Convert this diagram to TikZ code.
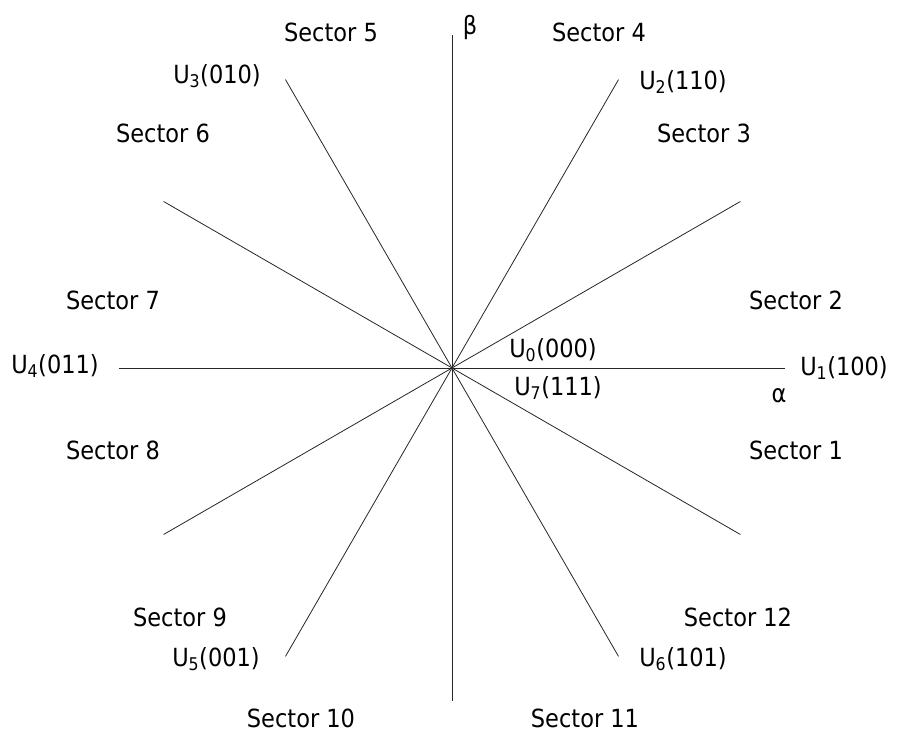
\documentclass[tikz,border=0pt]{standalone}
\usepackage{fontspec}
\setmainfont{DejaVu Sans Condensed}
\usetikzlibrary{calc}

\tikzset{
  axis/.style={draw=black!85, line width=0.8pt},
  lbl/.style={inner sep=0.75pt, font=\fontsize{25}{30}\selectfont},
}

\begin{document}
\begin{tikzpicture}[x=1pt,y=1pt]
            \useasboundingbox (-452,-365) rectangle (446,368);

            % Centre
            \coordinate (O) at (0,0);

            % Ends of the lines
            \foreach \a in {0,30,...,330}
              \coordinate (e\a) at (\a:333);

            % Lines
            \foreach \a in {0,30,...,330}
              \draw [axis] (O) -- (e\a);

            % Axis labels
            \node [lbl] (beta) at (18,340) {β};
            \node [lbl] (alpha) at (327,-28) {α};

            % Vectors
            \node [lbl] (u0) at (101,18) {U\textsubscript{0}(000)};
            \node [lbl] (u7) at (106,-20) {U\textsubscript{7}(111)};
            \node [lbl] (u1) at (392,0) {U\textsubscript{1}(100)};
            \node [lbl] (u2) at (231,286) {U\textsubscript{2}(110)};
            \node [lbl] (u3) at (-235,292) {U\textsubscript{3}(010)};
            \node [lbl] (u4) at (-397,2) {U\textsubscript{4}(011)};
            \node [lbl] (u5) at (-236,-291) {U\textsubscript{5}(001)};
            \node [lbl] (u6) at (231,-291) {U\textsubscript{6}(101)};

            % Sectors
            \node [lbl] (s1) at (344,-82) {Sector 1};
            \node [lbl] (s2) at (344,68) {Sector 2};
            \node [lbl] (s3) at (252,235) {Sector 3};
            \node [lbl] (s4) at (147,336) {Sector 4};
            \node [lbl] (s5) at (-121,336) {Sector 5};
            \node [lbl] (s6) at (-289,235) {Sector 6};
            \node [lbl] (s7) at (-339,68) {Sector 7};
            \node [lbl] (s8) at (-339,-82) {Sector 8};
            \node [lbl] (s9) at (-272,-249) {Sector 9};
            \node [lbl] (s10) at (-151,-350) {Sector 10};
            \node [lbl] (s11) at (133,-350) {Sector 11};
            \node [lbl] (s12) at (286,-249) {Sector 12};

\end{tikzpicture}
\end{document}
